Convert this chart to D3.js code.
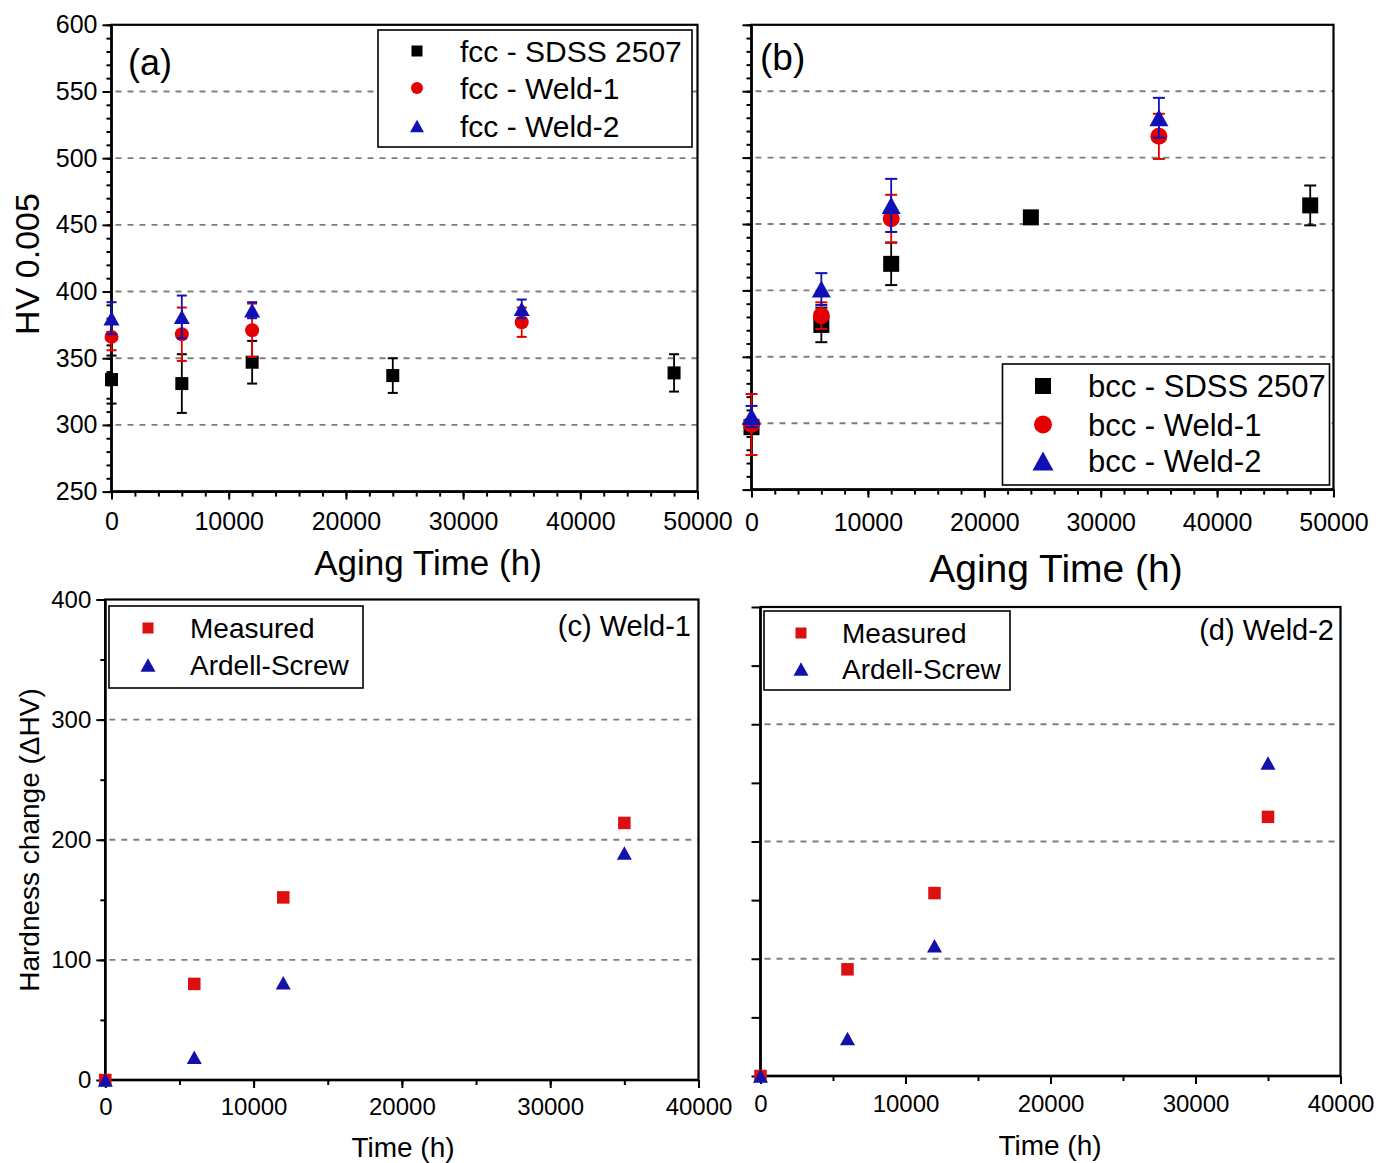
<!DOCTYPE html>
<html>
<head>
<meta charset="utf-8">
<script src="https://cdn.jsdelivr.net/npm/d3@7"></script>
<style>
  body { margin: 0; background: #fff; }
  svg text { font-family: "Liberation Sans", Arial, sans-serif; fill: #000; }
</style>
</head>
<body>
<svg id="fig" width="1379" height="1163"></svg>
<script>
// ---- data ----
var timeSdss = [0, 6000, 12000, 24000, 48000];
var timeWeld = [0, 6000, 12000, 35000];

// (a) fcc hardness, HV 0.005
var fccSdss = [334, 331, 347, 337, 339];
var fccSdssErr = [18, 22, 16, 13, 14];
var fccWeld1 = [366, 368, 371, 377];
var fccWeld1Err = [10, 20, 20, 11];
var fccWeld2 = [380, 381, 386, 387];
var fccWeld2Err = [12, 16, 6, 7];

// (b) bcc hardness
var bccSdss = [297, 374, 420, 455, 464];
var bccSdssErr = [5, 13, 16, 4, 15];
var bccWeld1 = [299, 381, 454, 516];
var bccWeld1Err = [23, 10, 18, 17];
var bccWeld2 = [305, 401, 464, 530];
var bccWeld2Err = [8, 12, 20, 15];

// (c) / (d) hardness change
var timeChange = [0, 6000, 12000, 35000];
var measuredW1 = [0, 80, 152, 214];
var ardellW1 = [0, 19, 81, 189];
var measuredW2 = [0, 91, 156, 221];
var ardellW2 = [0, 32, 111, 267];

var legendA = ["fcc - SDSS 2507", "fcc - Weld-1", "fcc - Weld-2"];
var legendB = ["bcc - SDSS 2507", "bcc - Weld-1", "bcc - Weld-2"];
var legendCD = ["Measured", "Ardell-Screw"];

var RED = "#e40000", BLUE = "#1010b4", BLACK = "#000";

var svg = d3.select("#fig");
svg.append("rect").attr("width", 1379).attr("height", 1163).attr("fill", "#fff");

function marker(g, shape, cx, cy, s, color) {
  if (shape == "square") {
    g.append("rect").attr("x", cx - s / 2).attr("y", cy - s / 2)
      .attr("width", s).attr("height", s).attr("fill", color);
  } else if (shape == "circle") {
    g.append("circle").attr("cx", cx).attr("cy", cy).attr("r", s / 2).attr("fill", color);
  } else {
    var h = s * 0.9;
    g.append("path")
      .attr("d", "M" + cx + "," + (cy - h / 2) + "L" + (cx + s / 2) + "," + (cy + h / 2) +
                 "L" + (cx - s / 2) + "," + (cy + h / 2) + "Z")
      .attr("fill", color);
  }
}

function panel(o) {
  var g = svg.append("g");
  var x = d3.scaleLinear().domain(o.xDomain).range([o.left, o.right]);
  var y = d3.scaleLinear().domain(o.yDomain).range([o.bottom, o.top]);

  // dashed grid
  g.append("g").selectAll("line").data(o.grid).join("line")
      .attr("x1", o.left + 4).attr("x2", o.right)
      .attr("y1", function(d) { return y(d); })
      .attr("y2", function(d) { return y(d); })
      .attr("stroke", "#7f7f7f").attr("stroke-width", 1.9)
      .attr("stroke-dasharray", "6,6");

  // frame
  g.append("rect").attr("x", o.left).attr("y", o.top)
      .attr("width", o.right - o.left).attr("height", o.bottom - o.top)
      .attr("fill", "none").attr("stroke", "#000").attr("stroke-width", 2.2);

  // minor ticks
  var yMinor = d3.axisLeft(y).tickValues(o.yMinor).tickSize(5).tickFormat("");
  g.append("g").attr("transform", "translate(" + o.left + ",0)").call(yMinor)
      .call(function(a) { a.select(".domain").remove(); })
      .selectAll("line").attr("stroke-width", 2);
  var xMinor = d3.axisBottom(x).tickValues(o.xMinor).tickSize(5).tickFormat("");
  g.append("g").attr("transform", "translate(0," + o.bottom + ")").call(xMinor)
      .call(function(a) { a.select(".domain").remove(); })
      .selectAll("line").attr("stroke-width", 2);

  // major ticks + labels
  var yAxis = d3.axisLeft(y).tickValues(o.yTicks).tickSize(9).tickPadding(5)
      .tickFormat(o.yLabels ? d3.format("d") : "");
  var ya = g.append("g").attr("transform", "translate(" + o.left + ",0)").call(yAxis);
  ya.select(".domain").remove();
  ya.selectAll("line").attr("stroke-width", 2);
  ya.selectAll("text").attr("font-size", o.tickFont).attr("font-family", null);

  var xAxis = d3.axisBottom(x).tickValues(o.xTicks).tickSize(8).tickFormat(d3.format("d"));
  var xa = g.append("g").attr("transform", "translate(0," + o.bottom + ")").call(xAxis);
  xa.select(".domain").remove();
  xa.selectAll("line").attr("stroke-width", 2);
  xa.selectAll("text").attr("font-size", o.tickFont).attr("font-family", null)
      .attr("y", o.xLabelBase - o.bottom).attr("dy", null);

  // main axis lines
  g.append("line").attr("x1", o.left).attr("x2", o.left).attr("y1", o.top).attr("y2", o.bottom + 1)
      .attr("stroke", "#000").attr("stroke-width", 2.6);
  g.append("line").attr("x1", o.left - 1).attr("x2", o.right).attr("y1", o.bottom).attr("y2", o.bottom)
      .attr("stroke", "#000").attr("stroke-width", 2.6);

  // series
  o.series.forEach(function(s) {
    var sg = g.append("g");
    s.t.forEach(function(t, i) {
      var cx = x(t), v = s.v[i];
      if (s.err) {
        var e = s.err[i];
        sg.append("line").attr("x1", cx).attr("x2", cx)
            .attr("y1", y(v - e)).attr("y2", y(v + e))
            .attr("stroke", s.color).attr("stroke-width", 1.8);
        [v - e, v + e].forEach(function(c) {
          sg.append("line").attr("x1", cx - o.cap / 2).attr("x2", cx + o.cap / 2)
              .attr("y1", y(c)).attr("y2", y(c))
              .attr("stroke", s.color).attr("stroke-width", 2);
        });
      }
      marker(sg, s.shape, cx, y(v), s.size, s.color);
    });
  });

  // legend
  var L = o.legend;
  g.append("rect").attr("x", L.x).attr("y", L.y).attr("width", L.w).attr("height", L.h)
      .attr("fill", "#fff").attr("stroke", "#000").attr("stroke-width", 1.6);
  L.labels.forEach(function(lab, i) {
    var s = o.series[i];
    marker(g, s.shape, L.mx, L.rows[i], L.sizes[i], s.color);
    g.append("text").attr("x", L.tx).attr("y", L.rows[i]).attr("dy", "0.36em")
        .attr("font-size", L.font).text(lab);
  });

  // panel tag
  g.append("text").attr("x", o.tag.x).attr("y", o.tag.y).attr("font-size", o.tag.font)
      .attr("text-anchor", o.tag.anchor || "start").text(o.tag.text);

  // axis titles
  if (o.xTitle) {
    g.append("text").attr("x", o.xTitle.x).attr("y", o.xTitle.y).attr("font-size", o.xTitle.font)
        .attr("text-anchor", "middle").text(o.xTitle.text);
  }
  if (o.yTitle) {
    g.append("text").attr("transform", "translate(" + o.yTitle.x + "," + o.yTitle.y + ") rotate(-90)")
        .attr("font-size", o.yTitle.font).attr("text-anchor", "middle").attr("dy", "0.36em")
        .text(o.yTitle.text);
  }
}

// (a)
panel({
  left: 111.5, right: 697.5, top: 24.8, bottom: 491.6,
  xDomain: [0, 50000], yDomain: [250, 600],
  grid: [300, 350, 400, 450, 500, 550],
  yTicks: d3.range(250, 601, 50), yMinor: d3.range(250, 601, 10), yLabels: true,
  xTicks: d3.range(0, 50001, 10000), xMinor: d3.range(0, 50001, 2000),
  tickFont: 25, xLabelBase: 530, cap: 10,
  series: [
    {t: timeSdss, v: fccSdss, err: fccSdssErr, shape: "square", size: 13, color: BLACK},
    {t: timeWeld, v: fccWeld1, err: fccWeld1Err, shape: "circle", size: 14, color: RED},
    {t: timeWeld, v: fccWeld2, err: fccWeld2Err, shape: "triangle", size: 16, color: BLUE}
  ],
  legend: {x: 378, y: 30, w: 314, h: 117, mx: 417, tx: 460, rows: [51, 88, 126],
           sizes: [11, 12, 14], font: 30, labels: legendA},
  tag: {x: 128, y: 75, font: 36, text: "(a)"},
  xTitle: {x: 428, y: 575, font: 35, text: "Aging Time (h)"},
  yTitle: {x: 27, y: 264, font: 34, text: "HV 0.005"}
});

// (b)
panel({
  left: 751.5, right: 1333.5, top: 24.8, bottom: 489.6,
  xDomain: [0, 50000], yDomain: [250, 600],
  grid: [300, 350, 400, 450, 500, 550],
  yTicks: d3.range(250, 601, 50), yMinor: d3.range(250, 601, 10), yLabels: false,
  xTicks: d3.range(0, 50001, 10000), xMinor: d3.range(0, 50001, 2000),
  tickFont: 25, xLabelBase: 531, cap: 12,
  series: [
    {t: timeSdss, v: bccSdss, err: bccSdssErr, shape: "square", size: 16, color: BLACK},
    {t: timeWeld, v: bccWeld1, err: bccWeld1Err, shape: "circle", size: 17, color: RED},
    {t: timeWeld, v: bccWeld2, err: bccWeld2Err, shape: "triangle", size: 19, color: BLUE}
  ],
  legend: {x: 1002.5, y: 364, w: 327, h: 121, mx: 1043, tx: 1088, rows: [386, 424.5, 461],
           sizes: [16, 18, 21], font: 31, labels: legendB},
  tag: {x: 760, y: 70, font: 37, text: "(b)"},
  xTitle: {x: 1056, y: 582, font: 39, text: "Aging Time (h)"}
});

// (c)
panel({
  left: 105.3, right: 698.5, top: 599.5, bottom: 1080,
  xDomain: [0, 40000], yDomain: [0, 400],
  grid: [100, 200, 300],
  yTicks: d3.range(0, 401, 100), yMinor: d3.range(0, 401, 50), yLabels: true,
  xTicks: d3.range(0, 40001, 10000), xMinor: d3.range(0, 40001, 5000),
  tickFont: 24, xLabelBase: 1115, cap: 10,
  series: [
    {t: timeChange, v: measuredW1, shape: "square", size: 12.5, color: "#dc1010"},
    {t: timeChange, v: ardellW1, shape: "triangle", size: 15, color: "#1212aa"}
  ],
  legend: {x: 109, y: 606, w: 254, h: 82, mx: 148, tx: 190, rows: [628, 665],
           sizes: [11, 15], font: 28, labels: legendCD},
  tag: {x: 691, y: 636, font: 29, anchor: "end", text: "(c) Weld-1"},
  xTitle: {x: 403, y: 1157, font: 28, text: "Time (h)"},
  yTitle: {x: 29, y: 840, font: 28, text: "Hardness change (\u0394HV)"}
});

// (d)
panel({
  left: 760.5, right: 1340.5, top: 607, bottom: 1076,
  xDomain: [0, 40000], yDomain: [0, 400],
  grid: [100, 200, 300],
  yTicks: d3.range(0, 401, 50), yMinor: [], yLabels: false,
  xTicks: d3.range(0, 40001, 10000), xMinor: d3.range(0, 40001, 5000),
  tickFont: 24, xLabelBase: 1112, cap: 10,
  series: [
    {t: timeChange, v: measuredW2, shape: "square", size: 12.5, color: "#dc1010"},
    {t: timeChange, v: ardellW2, shape: "triangle", size: 15, color: "#1212aa"}
  ],
  legend: {x: 764, y: 611, w: 246, h: 79, mx: 801, tx: 842, rows: [633, 669],
           sizes: [11, 15], font: 28, labels: legendCD},
  tag: {x: 1334, y: 640, font: 29, anchor: "end", text: "(d) Weld-2"},
  xTitle: {x: 1050, y: 1155, font: 28, text: "Time (h)"}
});
</script>
</body>
</html>
